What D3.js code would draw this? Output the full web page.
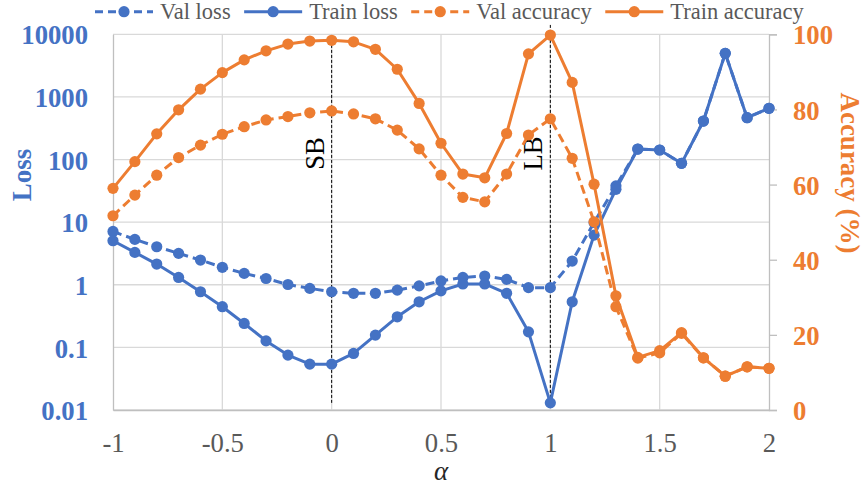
<!DOCTYPE html>
<html>
<head>
<meta charset="utf-8">
<script src="https://cdn.jsdelivr.net/npm/d3@7/dist/d3.min.js"></script>
<style>
  html, body { margin: 0; padding: 0; background: #fff; }
  svg { display: block; }
</style>
</head>
<body>
<svg id="chart" width="865" height="487"></svg>
<script>
// Interpolation coefficient between the two solutions
const alpha = [-1, -0.9, -0.8, -0.7, -0.6, -0.5, -0.4, -0.3, -0.2, -0.1,
  0, 0.1, 0.2, 0.3, 0.4, 0.5, 0.6, 0.7, 0.8, 0.9,
  1, 1.1, 1.2, 1.3, 1.4, 1.5, 1.6, 1.7, 1.8, 1.9, 2];

const valLoss = [7.1, 5.3, 4.05, 3.17, 2.48, 1.9, 1.52, 1.26, 1.01, 0.875,
  0.773, 0.73, 0.73, 0.82, 0.96, 1.15, 1.31, 1.38, 1.22, 0.9,
  0.9, 2.39, 9.9, 38, 147, 142, 87, 412, 4960, 466, 658];

const trainLoss = [5.05, 3.29, 2.14, 1.31, 0.773, 0.446, 0.241, 0.127, 0.0753, 0.054,
  0.054, 0.08, 0.157, 0.308, 0.535, 0.8, 1.03, 1.03, 0.73, 0.177,
  0.013, 0.535, 6.2, 33.4, 147, 142, 87, 412, 4960, 466, 658];

const valAcc = [51.7, 57.2, 62.5, 67.2, 70.5, 73.4, 75.4, 77.2, 78.1, 79.1,
  79.6, 78.8, 77.5, 74.5, 69.5, 62.5, 56.6, 55.4, 62.8, 73.2,
  77.5, 67.0, 50.1, 27.5, 13.8, 15.2, 20.4, 13.9, 9.0, 11.5, 11.1];

const trainAcc = [59.0, 66.1, 73.5, 79.9, 85.4, 89.8, 93.2, 95.6, 97.4, 98.2,
  98.4, 98.0, 96.0, 90.7, 81.6, 71.0, 62.8, 61.8, 73.6, 94.8,
  99.8, 87.2, 60.1, 30.4, 14.0, 15.8, 20.6, 13.9, 9.0, 11.5, 11.1];

// Axis ticks
const xTicks = [-1, -0.5, 0, 0.5, 1, 1.5, 2];
const lossTicks = [0.01, 0.1, 1, 10, 100, 1000, 10000];
const accTicks = [0, 20, 40, 60, 80, 100];

// Marked solutions: small batch (SB) and large batch (LB), span in accuracy units
const markers = [
  { alpha: 0, label: "SB", top: 98.5, bottom: 1.9 },
  { alpha: 1, label: "LB", top: 102.5, bottom: 1.9 }
];

const BLUE = "#4472C4", ORANGE = "#ED7D31";
const SERIF = '"Liberation Serif"';

const series = [
  { name: "Val loss", values: valLoss, axis: "loss", color: BLUE, dashed: true },
  { name: "Train loss", values: trainLoss, axis: "loss", color: BLUE, dashed: false },
  { name: "Val accuracy", values: valAcc, axis: "acc", color: ORANGE, dashed: true },
  { name: "Train accuracy", values: trainAcc, axis: "acc", color: ORANGE, dashed: false }
];

const svg = d3.select("#chart");
const plot = { left: 113, right: 769, top: 34.3, bottom: 410 };

const x = d3.scaleLinear().domain([-1, 2]).range([plot.left, plot.right]);
const yLoss = d3.scaleLog().domain([0.01, 10000]).range([plot.bottom, plot.top]);
const yAcc = d3.scaleLinear().domain([0, 100]).range([plot.bottom, plot.top]);

const GRID = "#D9D9D9", AXIS = "#BFBFBF";
const tickFont = 26.7;

// Gridlines
const grid = svg.append("g");
grid.selectAll(".hg").data(lossTicks).join("line")
  .attr("x1", plot.left).attr("x2", plot.right)
  .attr("y1", d => yLoss(d)).attr("y2", d => yLoss(d))
  .attr("stroke", GRID).attr("stroke-width", 1.3);
grid.selectAll(".vg").data(xTicks.slice(1, -1)).join("line")
  .attr("x1", d => x(d)).attr("x2", d => x(d))
  .attr("y1", plot.top).attr("y2", plot.bottom)
  .attr("stroke", GRID).attr("stroke-width", 1.3);

// Left (loss) axis
const leftAxis = d3.axisLeft(yLoss).tickValues(lossTicks).tickSize(0).tickPadding(25)
  .tickFormat(d => String(d));
const gl = svg.append("g").attr("transform", `translate(${plot.left},0)`).call(leftAxis)
  .attr("font-family", null).attr("font-size", null);
gl.select(".domain").attr("stroke", AXIS).attr("stroke-width", 1.3);
gl.selectAll("text").attr("fill", BLUE).attr("font-size", tickFont).attr("font-weight", "bold")
  .style("font-family", SERIF).attr("dy", "0.36em");

// Right (accuracy) axis
const rightAxis = d3.axisRight(yAcc).tickValues(accTicks).tickSize(8).tickPadding(16);
const gr = svg.append("g").attr("transform", `translate(${plot.right},0)`).call(rightAxis)
  .attr("font-family", null).attr("font-size", null);
gr.select(".domain").attr("stroke", AXIS).attr("stroke-width", 1.3);
gr.selectAll(".tick line").attr("stroke", AXIS).attr("stroke-width", 1.3);
gr.selectAll("text").attr("fill", ORANGE).attr("font-size", tickFont).attr("font-weight", "bold")
  .style("font-family", SERIF).attr("dy", "0.36em");

// Bottom (alpha) axis
const bottomAxis = d3.axisBottom(x).tickValues(xTicks).tickSize(0).tickPadding(26)
  .tickFormat(d => String(d));
const gb = svg.append("g").attr("transform", `translate(0,${plot.bottom})`).call(bottomAxis)
  .attr("font-family", null).attr("font-size", null);
gb.select(".domain").attr("stroke", AXIS).attr("stroke-width", 1.3);
gb.selectAll("text").attr("fill", "#595959").attr("font-size", tickFont)
  .style("font-family", SERIF).attr("dy", "0.6em");

// Axis titles
svg.append("text").attr("transform", "translate(31,175) rotate(-90)")
  .attr("text-anchor", "middle").attr("font-size", 27).attr("font-weight", "bold")
  .style("font-family", SERIF).attr("fill", BLUE).text("Loss");
svg.append("text").attr("transform", "translate(841,173) rotate(90)")
  .attr("text-anchor", "middle").attr("font-size", 27).attr("font-weight", "bold")
  .style("font-family", SERIF).attr("fill", ORANGE).text("Accuracy (%)");
svg.append("text").attr("x", (plot.left + plot.right) / 2).attr("y", 480)
  .attr("text-anchor", "middle").attr("font-size", 27).attr("font-style", "italic")
  .style("font-family", SERIF).attr("fill", "#262626").text("α");

// Reference lines for SB and LB
const ann = svg.append("g");
ann.selectAll("line").data(markers).join("line")
  .attr("x1", d => x(d.alpha)).attr("x2", d => x(d.alpha))
  .attr("y1", d => yAcc(d.top)).attr("y2", d => yAcc(d.bottom))
  .attr("stroke", "#000").attr("stroke-width", 1).attr("stroke-dasharray", "3,2");
ann.selectAll("text").data(markers).join("text")
  .attr("transform", d => `translate(${x(d.alpha) - 8},${yAcc(68.3)}) rotate(-90)`)
  .attr("text-anchor", "middle").attr("font-size", 26.7).attr("fill", "#000")
  .style("font-family", SERIF)
  .text(d => d.label);

// Series
const R = 5.6;
series.forEach(s => {
  const yS = s.axis === "loss" ? yLoss : yAcc;
  const pts = alpha.map((a, i) => [a, s.values[i]]);
  const line = d3.line().x(d => x(d[0])).y(d => yS(d[1]));
  const g = svg.append("g");
  g.append("path").datum(pts).attr("d", line)
    .attr("fill", "none").attr("stroke", s.color).attr("stroke-width", 3)
    .attr("stroke-linejoin", "round")
    .attr("stroke-dasharray", s.dashed ? "9,5" : null);
  g.selectAll("circle").data(pts).join("circle")
    .attr("cx", d => x(d[0])).attr("cy", d => yS(d[1])).attr("r", R)
    .attr("fill", s.color);
});

// Legend
const legend = svg.append("g");
let lx = 95;
const ly = 11.7;
series.forEach(s => {
  const item = legend.append("g");
  item.append("line").attr("x1", lx).attr("x2", lx + 58).attr("y1", ly).attr("y2", ly)
    .attr("stroke", s.color).attr("stroke-width", 3)
    .attr("stroke-dasharray", s.dashed ? "8,5" : null);
  item.append("circle").attr("cx", lx + 29).attr("cy", ly).attr("r", R).attr("fill", s.color);
  const t = item.append("text").attr("x", lx + 65).attr("y", 19)
    .attr("font-size", 22.5).attr("fill", "#595959")
    .style("font-family", SERIF).text(s.name);
  lx += 65 + t.node().getComputedTextLength() + 13.5;
});
</script>
</body>
</html>
